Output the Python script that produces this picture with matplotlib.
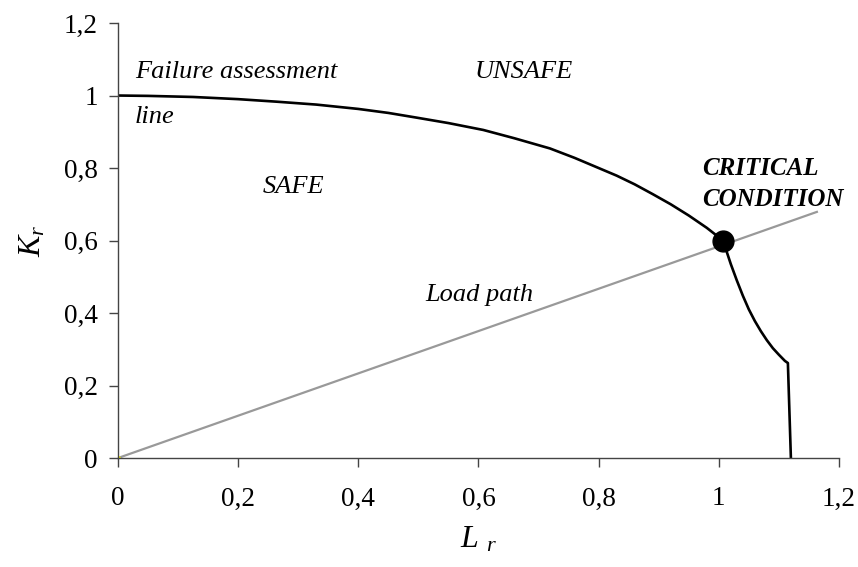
import matplotlib
matplotlib.use('Agg')
from matplotlib import pyplot as plt
from matplotlib.ticker import FuncFormatter

# failure assessment line
fal_lr = [0.0, 0.05, 0.125, 0.2, 0.264, 0.33, 0.40, 0.45, 0.497, 0.55, 0.608, 0.66, 0.719,
          0.76, 0.80, 0.83, 0.86, 0.89, 0.92, 0.95, 0.98, 1.007,
          1.012, 1.02, 1.03, 1.04, 1.05, 1.06, 1.07, 1.08, 1.09, 1.10, 1.11, 1.115, 1.12]
fal_kr = [1.0, 0.999, 0.996, 0.99, 0.983, 0.975, 0.963, 0.952, 0.939, 0.924, 0.905, 0.882, 0.854,
          0.828, 0.80, 0.779, 0.755, 0.728, 0.70, 0.669, 0.635, 0.60,
          0.575, 0.535, 0.49, 0.448, 0.41, 0.378, 0.35, 0.325, 0.303, 0.285, 0.268, 0.262, 0.0]

# load path (straight line from origin)
path_lr = [0.0, 1.165]
path_kr = [0.0, 0.68]

# critical point
crit_lr = [1.007]
crit_kr = [0.598]

x_ticks = [0, 0.2, 0.4, 0.6, 0.8, 1.0, 1.2]
y_ticks = [0, 0.2, 0.4, 0.6, 0.8, 1.0, 1.2]

plt.rcParams['font.family'] = ['Liberation Serif', 'DejaVu Serif']
plt.rcParams['mathtext.fontset'] = 'custom'
plt.rcParams['mathtext.it'] = 'Liberation Serif:italic'
plt.rcParams['mathtext.rm'] = 'Liberation Serif'

fig = plt.figure(figsize=(8.58, 5.67), dpi=100)
ax = fig.add_axes([0.1375, 0.1922, 0.8403, 0.7672])

ax.plot(path_lr, path_kr, color='#999999', lw=1.6, solid_capstyle='butt')
ax.plot(fal_lr, fal_kr, color='black', lw=1.9)
ax.plot(crit_lr, crit_kr, 'o', color='black', ms=15)
ax.plot([0], [0], 'o', color='yellow', ms=2.5)

ax.set_xlim(0, 1.2)
ax.set_ylim(0, 1.2)
ax.set_xticks(x_ticks)
ax.set_yticks(y_ticks)
fmt = FuncFormatter(lambda v, p: ('%g' % v).replace('.', ','))
ax.xaxis.set_major_formatter(fmt)
ax.yaxis.set_major_formatter(fmt)

for s in ['top', 'right']:
    ax.spines[s].set_visible(False)
for s in ['left', 'bottom']:
    ax.spines[s].set_color('#444444')
    ax.spines[s].set_linewidth(1.0)
ax.tick_params(direction='out', length=6.5, width=1.0, color='#444444', labelsize=19.5)
ax.tick_params(axis='x', pad=14)
ax.tick_params(axis='y', pad=8)

ax.set_xlabel(r'$L\ _r$', fontsize=23, labelpad=10)
ax.set_ylabel(r'$K_r$', fontsize=23, labelpad=12)

txt = dict(fontsize=19, style='italic', va='center', ha='left')
ax.text(0.028, 1.065, 'Failure assessment', **txt)
ax.text(0.028, 0.94, 'line', **txt)
ax.text(0.594, 1.065, 'UNSAFE', **txt)
ax.text(0.241, 0.748, 'SAFE', **txt)
ax.text(0.511, 0.45, 'Load path', **txt)
ax.text(0.972, 0.80, 'CRITICAL', fontsize=18, style='italic', weight='bold', va='center', ha='left')
ax.text(0.972, 0.712, 'CONDITION', fontsize=18, style='italic', weight='bold', va='center', ha='left')

fig.savefig('out.png', dpi=100)
